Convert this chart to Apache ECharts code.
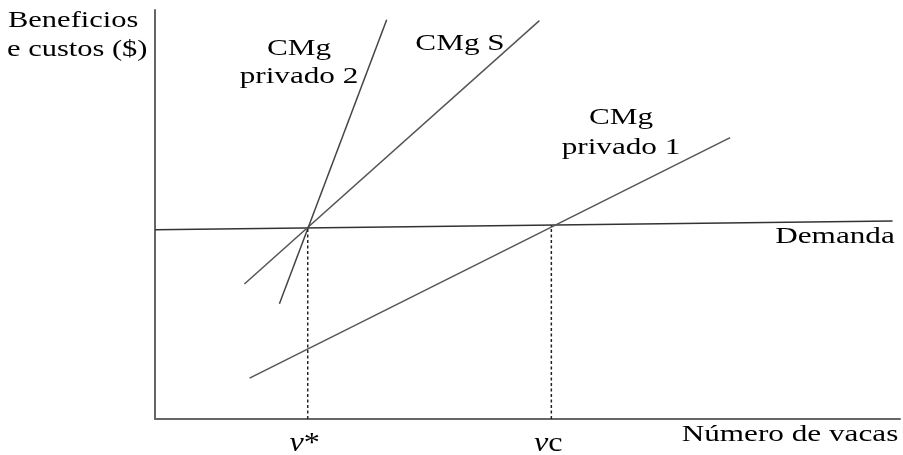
<!DOCTYPE html>
<html>
<head>
<meta charset="utf-8">
<script src="https://cdn.jsdelivr.net/npm/echarts@6/dist/echarts.min.js"></script>
<style>html,body{margin:0;padding:0;background:#fff;}#c{width:903px;height:455px;}</style>
</head>
<body>
<div id="c"></div>
<script>
// Curve endpoints in chart units (x: 0-100, y: 0-100)
const demandX = [0, 99];
const demandY = [46.3, 48.4];
const cmgSX = [12.0, 51.6];
const cmgSY = [33.0, 97.4];
const cmgPriv2X = [16.7, 31.1];
const cmgPriv2Y = [28.2, 97.6];
const cmgPriv1X = [12.7, 77.2];
const cmgPriv1Y = [10.0, 68.8];
// Equilibrium quantities and their tick labels
const tickValues = [20.5, 53.2];
const tickLevels = [46.6, 47.4];
const tickLabels = ['v*', 'vc'];
const curveNames = ['Demanda', 'CMg S', 'CMg privado 2', 'CMg privado 1'];

const chart = echarts.init(document.getElementById('c'), null, {renderer: 'canvas'});
const pairs = (xs, ys) => xs.map((x, i) => [x, ys[i]]);
const solid = (name, data, color) => ({
  type: 'line', name, data, symbol: 'none', silent: true, animation: false,
  lineStyle: {color, width: 1.5}
});
const dashed = (i) => ({
  type: 'line', data: [[tickValues[i], 0], [tickValues[i], tickLevels[i]]],
  symbol: 'none', silent: true, animation: false,
  lineStyle: {color: '#222', width: 1.5, type: [3, 2.5]}
});
const axisCommon = {
  type: 'value', min: 0, max: 100,
  axisLine: {show: true, lineStyle: {color: '#666', width: 2}},
  axisTick: {show: false}, axisLabel: {show: false}, splitLine: {show: false}
};
chart.setOption({
  backgroundColor: '#fff',
  animation: false,
  grid: {left: 155, right: 3, top: 10, bottom: 36},
  xAxis: axisCommon,
  yAxis: axisCommon,
  series: [
    solid(curveNames[0], pairs(demandX, demandY), '#333'),
    solid(curveNames[1], pairs(cmgSX, cmgSY), '#555'),
    solid(curveNames[2], pairs(cmgPriv2X, cmgPriv2Y), '#444'),
    solid(curveNames[3], pairs(cmgPriv1X, cmgPriv1Y), '#555'),
    dashed(0), dashed(1)
  ]
});

const FAMILY = 'Liberation Serif';
const txt = (text, x, y, align, extra) => Object.assign({
  type: 'text', x, y, scaleX: 1.3, scaleY: 1, silent: true,
  style: {text, fontFamily: FAMILY, fontSize: 24, fill: '#000', textAlign: align, textVerticalAlign: 'bottom'}
}, extra || {});

const tickGraphics = tickValues.map((v, i) => {
  const p = chart.convertToPixel({gridIndex: 0}, [v, 0]);
  const lab = tickLabels[i];
  return {
    type: 'text', x: p[0] - 3, y: 458, scaleX: 1.15, silent: true,
    style: {
      text: '{i|' + lab[0] + '}{n|' + lab.slice(1) + '}',
      textAlign: 'center', textVerticalAlign: 'bottom',
      rich: {
        i: {fontFamily: FAMILY, fontStyle: 'italic', fontSize: 28, fill: '#000'},
        n: {fontFamily: FAMILY, fontSize: 28, fill: '#000'}
      }
    }
  };
});

chart.setOption({
  graphic: [
    txt('Beneficios', 8, 33, 'left', {scaleX: 1.27}),
    txt('e custos ($)', 7, 62, 'left', {scaleX: 1.27}),
    txt('CMg', 299, 61, 'center'),
    txt('privado 2', 299, 89, 'center'),
    txt('CMg S', 460, 56, 'center'),
    txt('CMg', 621, 130, 'center'),
    txt('privado 1', 621, 160, 'center'),
    txt('Demanda', 835, 249, 'center'),
    txt('Número de vacas', 790, 447, 'center')
  ].concat(tickGraphics)
});
</script>
</body>
</html>
